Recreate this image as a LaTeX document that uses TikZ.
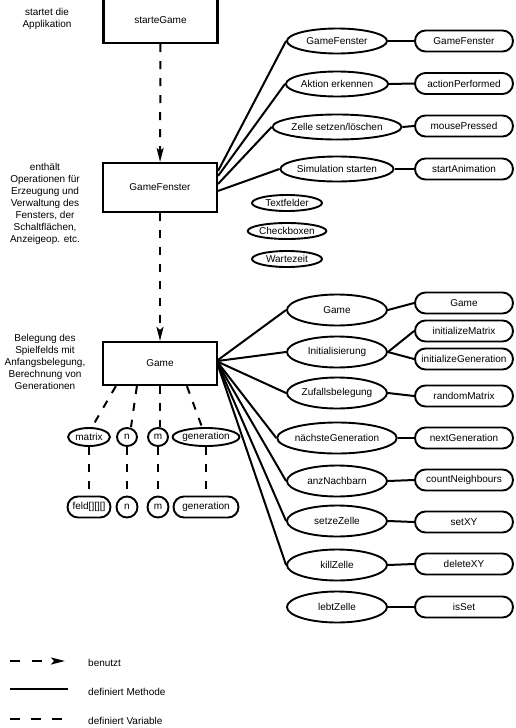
\documentclass[tikz,border=0pt]{standalone}
\usepackage{fontspec}
\setmainfont{Liberation Sans}
\usetikzlibrary{shapes.geometric,shapes.misc,arrows.meta}
\begin{document}
\begin{tikzpicture}[x=1pt,y=-1pt,
  every node/.style={font=\fontsize{10}{12}\selectfont, inner sep=0pt},
  classbox/.style={draw, line width=2.2pt, rectangle, minimum width=114pt},
  meth/.style={draw, line width=1.9pt, ellipse, minimum width=100pt, minimum height=31pt},
  methsmall/.style={meth, minimum height=25pt},
  impl/.style={draw, line width=1.9pt, rounded rectangle, minimum width=98pt, minimum height=21pt},
  varell/.style={draw, line width=1.9pt, ellipse, minimum height=18pt},
  varimp/.style={draw, line width=1.9pt, rounded rectangle, minimum height=21pt},
  note/.style={align=center},
  defm/.style={line width=2pt},
  defv/.style={line width=2pt, dash pattern=on 8pt off 9pt},
  uses/.style={line width=2pt, dash pattern=on 8pt off 9pt, -{Stealth[width=7pt,length=14pt,inset=3pt]}},
]
\useasboundingbox (0,0) rectangle (516,728);

% class boxes
\node[classbox, minimum height=46pt] (sg) at (160.5,20) {starteGame};
\node[classbox, minimum height=49pt] (gf) at (160,187.5) {GameFenster};
\node[classbox, minimum height=43pt] (gm) at (160,363.5) {Game};

% notes
\node[note] (n1) at (47,19) {startet die\\Applikation};
\node[note] (n2) at (45,204) {enthält\\Operationen für\\Erzeugung und\\Verwaltung des\\Fensters, der\\Schaltflächen,\\Anzeigeop. etc.};
\node[note] (n3) at (45,362) {Belegung des\\Spielfelds mit\\Anfangsbelegung,\\Berechnung von\\Generationen};

% uses
\draw[uses] (sg) -- (gf);
\draw[uses] (gf) -- (gm);

% GameFenster methods
\node[methsmall] (e1) at (337,41) {GameFenster};
\node[methsmall] (e2) at (337,84) {Aktion erkennen};
\node[methsmall] (e3) at (337,127) {Zelle setzen/löschen};
\node[methsmall] (e4) at (337,169) {Simulation starten};
\node[impl] (r1) at (464,41) {GameFenster};
\node[impl] (r2) at (464,83.5) {actionPerformed};
\node[impl] (r3) at (464,126) {mousePressed};
\node[impl] (r4) at (464,169) {startAnimation};
\node[varell, minimum width=70pt, minimum height=16pt] (tf) at (287,203) {Textfelder};
\node[varell, minimum width=70pt, minimum height=16pt] (cb) at (287,231) {Checkboxen};
\node[varell, minimum width=70pt, minimum height=16pt] (wz) at (287,259) {Wartezeit};

\draw[defm] ([yshift=-9pt]gf.north east) -- (e1.west);
\draw[defm] ([yshift=-14pt]gf.north east) -- (e2.west);
\draw[defm] ([yshift=-22pt]gf.north east) -- (e3.west);
\draw[defm] ([yshift=-29pt]gf.north east) -- (e4.west);
\foreach \i in {1,...,4} { \draw[defm] (e\i.east) -- (r\i.west); }

% Game methods
\node[meth] (a1) at (337,310) {Game};
\node[meth] (a2) at (337,352) {Initialisierung};
\node[meth] (a3) at (337,393) {Zufallsbelegung};
\node[meth] (a4) at (337,438) {nächsteGeneration};
\node[meth] (a5) at (337,481) {anzNachbarn};
\node[meth] (a6) at (337,521) {setzeZelle};
\node[meth] (a7) at (337,565) {killZelle};
\node[meth] (a8) at (337,607) {lebtZelle};
\node[impl] (b1) at (464,303) {Game};
\node[impl] (b2) at (464,331) {initializeMatrix};
\node[impl] (b3) at (464,359) {initializeGeneration};
\node[impl] (b4) at (464,396) {randomMatrix};
\node[impl] (b5) at (464,438) {nextGeneration};
\node[impl] (b6) at (464,480) {countNeighbours};
\node[impl] (b7) at (464,522) {setXY};
\node[impl] (b8) at (464,564) {deleteXY};
\node[impl] (b9) at (464,607) {isSet};

\draw[defm] ([yshift=-19pt]gm.north east) -- (a1.west);
\draw[defm] ([yshift=-20pt]gm.north east) -- (a2.west);
\draw[defm] ([yshift=-21pt]gm.north east) -- (a3.west);
\draw[defm] ([yshift=-22pt]gm.north east) -- (a4.west);
\draw[defm] ([yshift=-23pt]gm.north east) -- (a5.west);
\draw[defm] ([yshift=-24pt]gm.north east) -- (a6.west);
\draw[defm] ([yshift=-25pt]gm.north east) -- (a7.west);
\draw[defm] (a1.east) -- (b1.west);
\draw[defm] (a2.east) -- (b2.west);
\draw[defm] (a2.east) -- (b3.west);
\draw[defm] (a3.east) -- (b4.west);
\draw[defm] (a4.east) -- (b5.west);
\draw[defm] (a5.east) -- (b6.west);
\draw[defm] (a6.east) -- (b7.west);
\draw[defm] (a7.east) -- (b8.west);
\draw[defm] (a8.east) -- (b9.west);

% Game variables
\node[varell, minimum width=42pt] (v1) at (89,437) {matrix};
\node[varell, minimum width=20pt] (v2) at (127,437) {n};
\node[varell, minimum width=20pt] (v3) at (158,437) {m};
\node[varell, minimum width=65pt] (v4) at (206,437) {generation};
\node[varimp, minimum width=43pt] (w1) at (89,507) {feld[][][]};
\node[varimp, minimum width=20pt] (w2) at (127,507) {n};
\node[varimp, minimum width=20pt] (w3) at (158,507) {m};
\node[varimp, minimum width=65pt] (w4) at (206,507) {generation};

\draw[defv] ([xshift=14pt]gm.south west) -- ([xshift=3pt]v1.north);
\draw[defv] ([xshift=35pt]gm.south west) -- ([xshift=4pt]v2.north);
\draw[defv] (gm.south) -- ([xshift=2pt]v3.north);
\draw[defv] ([xshift=85pt]gm.south west) -- ([xshift=-4pt]v4.north);
\foreach \i in {1,...,4} { \draw[defv] (v\i.south) -- (w\i.north); }

% legend
\coordinate (l1a) at (10,661); \coordinate (l1b) at (65,661);
\coordinate (l2a) at (10,689); \coordinate (l2b) at (68,689);
\coordinate (l3a) at (10,719); \coordinate (l3b) at (68,719);
\draw[line width=2pt, dash pattern=on 10pt off 12pt, -{Stealth[width=7pt,length=14pt,inset=3pt]}] (l1a) -- (l1b);
\draw[defm] (l2a) -- (l2b);
\draw[line width=2pt, dash pattern=on 10pt off 11pt] (l3a) -- (l3b);
\node[anchor=west] (t1) at (88,663) {benutzt};
\node[anchor=west] (t2) at (88,692) {definiert Methode};
\node[anchor=west] (t3) at (88,721) {definiert Variable};
\end{tikzpicture}
\end{document}
